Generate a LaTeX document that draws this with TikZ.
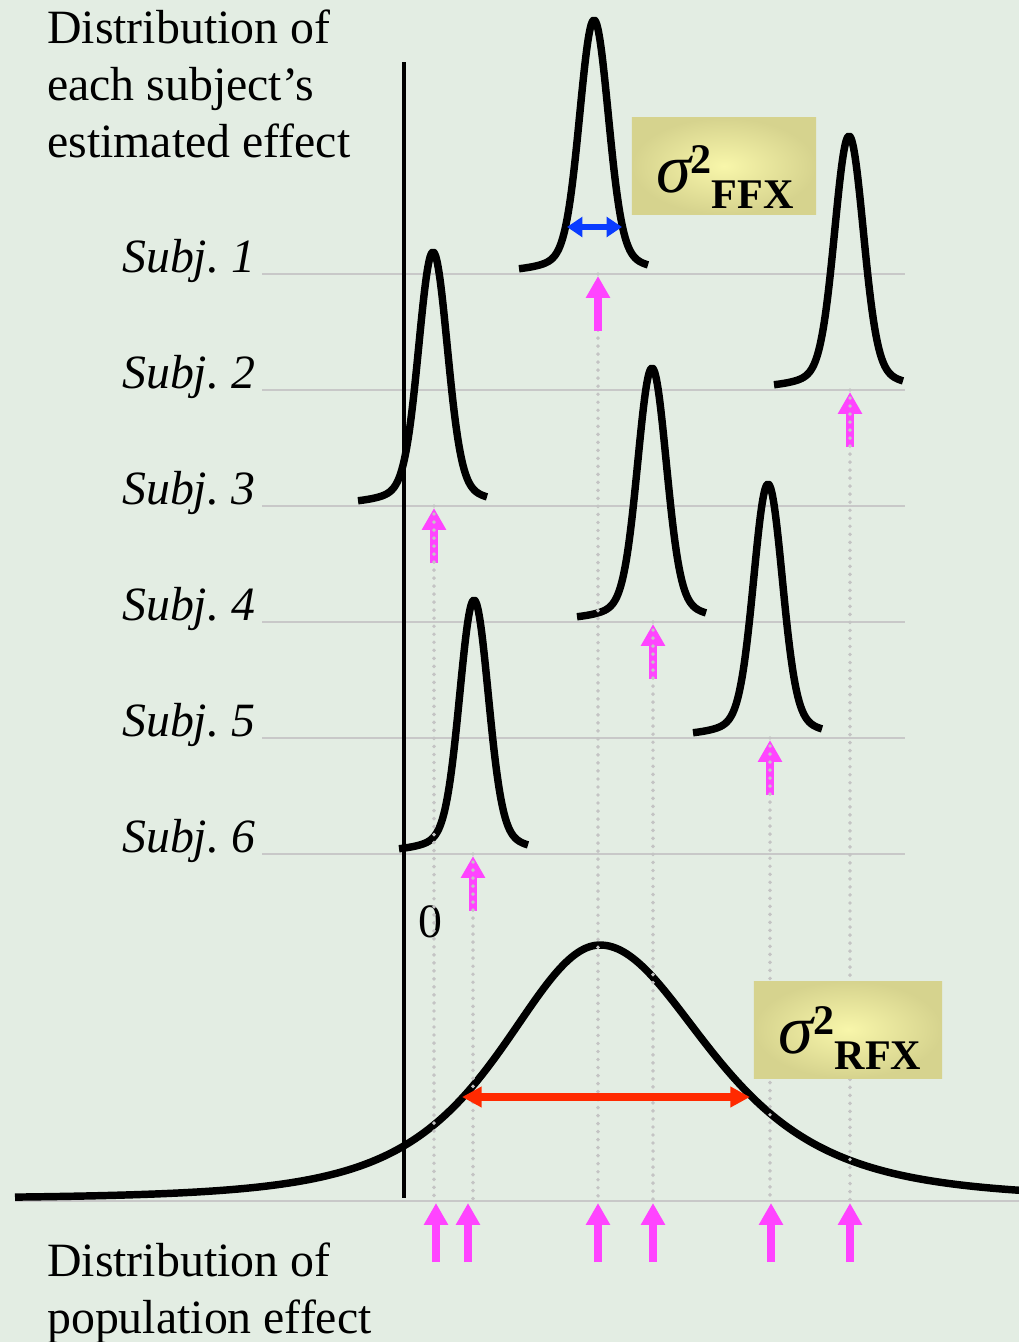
\documentclass[tikz,border=0pt]{standalone}
\usepackage{fontspec}
\setmainfont{Liberation Serif}
\usetikzlibrary{arrows.meta,calc}

\definecolor{bgcol}{HTML}{E3EDE3}
\definecolor{gridgrey}{HTML}{C8C8C8}
\definecolor{dotgrey}{HTML}{C4C4C4}
\definecolor{arrowpink}{HTML}{FF44FF}
\definecolor{ffxblue}{HTML}{0A3CFF}
\definecolor{rfxred}{HTML}{FF2A00}
\definecolor{boxin}{HTML}{F8F6AA}
\definecolor{boxout}{HTML}{D6D38E}

\tikzset{
  curveline/.style={line width=5.3pt, line join=round},
  subjline/.style={gridgrey, line width=1.4pt},
  dotline/.style={dotgrey, line width=2.8pt, line cap=round, dash pattern=on 0pt off 5.7pt},
  pinkarrow/.style={arrowpink, line width=5.7pt, -{Triangle[width=16.4pt,length=15.6pt]}},
  sigmabox/.style={inner color=boxin, outer color=boxout, inner sep=0pt},
  bigtext/.style={font=\fontsize{34}{40.5}\selectfont, inner sep=0pt},
  subjtext/.style={font=\fontsize{34}{40.5}\selectfont\itshape, inner sep=0pt, anchor=base west},
}

\newcommand{\sigmatext}[1]{{\fontsize{50}{50}\selectfont\itshape σ}\raisebox{13.5pt}{\fontsize{30}{30}\selectfont\bfseries 2}\raisebox{-11.4pt}{\fontsize{30}{30}\selectfont\bfseries #1}}

\begin{document}
\begin{tikzpicture}[x=0.025cm, y=-0.025cm]
% background
\fill[bgcol] (0,0) rectangle (1019,1342);
\useasboundingbox (0,0) rectangle (1019,1342);

% subject lines and labels
\foreach \i/\yb in {1/274,2/390,3/506,4/622,5/738,6/854}{
  \draw[subjline] (262,\yb) -- (905,\yb);
  \node[subjtext] (subj\i) at (122,\yb-2) {Subj.\ \i};
}
\draw[subjline] (15,1201) -- (1019,1201);

% axis
\draw[line width=2.5pt] (404,62) -- (404,1198);

% subject curves
\foreach \xc/\yb in {594/274,849/390,433/506,652/622,768/738,474/854}{
  \pgfmathsetmacro\xa{\xc-75}
  \pgfmathsetmacro\xb{\xc+54}
  \draw[curveline] plot[smooth, domain=\xa:\xb, samples=130]
    (\x,{\yb-254*(0.85*exp(-((\x-\xc)*(\x-\xc))/392)+0.15/(1+((\x-\xc)/30)*((\x-\xc)/30)))});
}

% population curve
\draw[curveline] plot[smooth, domain=15:600, samples=120]
    (\x,{1199-254/((1+((\x-600)/180)*((\x-600)/180))^2)})
  -- plot[smooth, domain=600:1019, samples=90]
    (\x,{1199-254/((1+((\x-600)/200)*((\x-600)/200))^2)});

\node[bigtext, anchor=base] (zero) at (430,937) {0};

% subject estimates
\foreach \xx/\yb in {850/390,434/506,653/622,770/738,473/854}
  \draw[pinkarrow] (\xx,\yb+57) -- (\xx,\yb+2);
\foreach \xx/\yb in {434/506,473/854,598/274,653/622,770/738,850/390}
  \draw[dotline] (\xx,\yb) -- (\xx,1201);
\draw[pinkarrow] (598,331) -- (598,276);

% population arrows
\foreach \xx in {436,468,598,653,771,850}
  \draw[pinkarrow] (\xx,1262) -- (\xx,1203);

% variances
\draw[ffxblue, line width=4.5pt, {Triangle[width=14pt,length=11pt]}-{Triangle[width=14pt,length=11pt]}] (567,227) -- (622,227);
\draw[rfxred, line width=5pt, {Triangle[width=14pt,length=14pt]}-{Triangle[width=14pt,length=14pt]}] (462,1097) -- (750,1097);

\node[sigmabox, minimum width=4.6cm, minimum height=2.4cm] (ffxbox) at (724,166) {};
\node[anchor=base, inner sep=0pt] (ffxlabel) at (725,192) {\sigmatext{FFX}};

\node[sigmabox, minimum width=4.7cm, minimum height=2.425cm] (rfxbox) at (848,1029.5) {};
\node[anchor=base, inner sep=0pt] (rfxlabel) at (850,1053) {\sigmatext{RFX}};

% titles
\node[bigtext, anchor=base west, align=left] (toptext) at (47,157) {Distribution of\\each subject's\\estimated effect};
\node[bigtext, anchor=base west, align=left] (bottext) at (47,1333) {Distribution of\\population effect};
\end{tikzpicture}
\end{document}
